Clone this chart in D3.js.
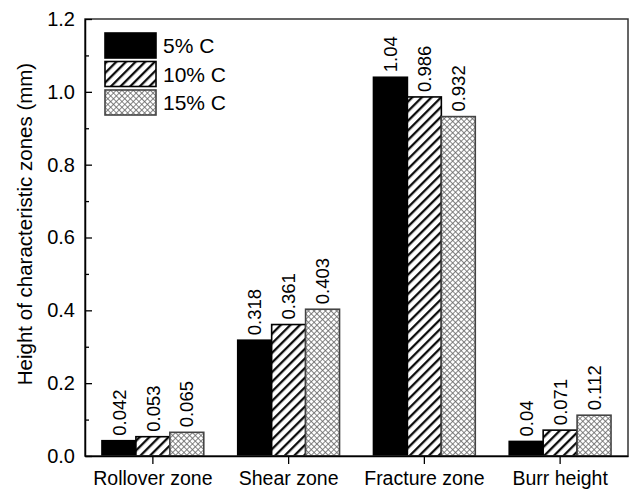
<!DOCTYPE html>
<html>
<head>
<meta charset="utf-8">
<script src="https://cdnjs.cloudflare.com/ajax/libs/d3/7.8.5/d3.min.js"></script>
<style>
  body { margin: 0; background: #fff; }
  svg text { font-family: "Liberation Sans", Arial, sans-serif; fill: #000; }
</style>
</head>
<body>
<script>
// data
var categories = ["Rollover zone", "Shear zone", "Fracture zone", "Burr height"];
var seriesNames = ["5% C", "10% C", "15% C"];
var c5 = [0.042, 0.318, 1.04, 0.04];
var c10 = [0.053, 0.361, 0.986, 0.071];
var c15 = [0.065, 0.403, 0.932, 0.112];
var yTicks = [0.0, 0.2, 0.4, 0.6, 0.8, 1.0, 1.2];
var yLabel = "Height of characteristic zones (mm)";

var series = [c5, c10, c15];

// set the dimensions and margins of the graph
var margin = {top: 19, right: 3, bottom: 40, left: 85},
    width = 631 - margin.left - margin.right,
    height = 496 - margin.top - margin.bottom;

var svg = d3.select("body").append("svg")
    .attr("width", 631)
    .attr("height", 496);

// fill patterns
var defs = svg.append("defs");
defs.append("pattern")
    .attr("id", "hatch")
    .attr("patternUnits", "userSpaceOnUse")
    .attr("width", 6.8).attr("height", 6.8)
    .attr("patternTransform", "rotate(45)")
  .call(function(p) {
    p.append("rect").attr("width", 6.8).attr("height", 6.8).attr("fill", "#fff");
    p.append("line").attr("x1", 1.2).attr("x2", 1.2).attr("y1", 0).attr("y2", 6.8)
      .attr("stroke", "#000").attr("stroke-width", 2.2);
  });
defs.append("pattern")
    .attr("id", "cross")
    .attr("patternUnits", "userSpaceOnUse")
    .attr("width", 4).attr("height", 4)
    .attr("patternTransform", "rotate(45)")
  .call(function(p) {
    p.append("rect").attr("width", 4).attr("height", 4).attr("fill", "#fff");
    p.append("line").attr("x1", 0.5).attr("x2", 0.5).attr("y1", 0).attr("y2", 4)
      .attr("stroke", "#666").attr("stroke-width", 0.8);
    p.append("line").attr("y1", 0.5).attr("y2", 0.5).attr("x1", 0).attr("x2", 4)
      .attr("stroke", "#666").attr("stroke-width", 0.8);
  });

var fills = ["#000", "url(#hatch)", "url(#cross)"];
var strokes = ["#000", "#000", "#444"];

var g = svg.append("g")
    .attr("transform", "translate(" + margin.left + "," + margin.top + ")");

// scales
var x0 = d3.scaleBand().domain(categories).range([0, width])
    .paddingInner(0.25).paddingOuter(0.125);
var x1 = d3.scaleBand().domain(d3.range(series.length)).range([0, x0.bandwidth()]);
var y = d3.scaleLinear().domain([0, 1.2]).range([height, 0]);

// bars
series.forEach(function(vals, si) {
  var sg = g.append("g");
  sg.selectAll("rect")
      .data(vals)
    .enter().append("rect")
      .attr("x", function(d, i) { return x0(categories[i]) + x1(si); })
      .attr("y", function(d) { return y(d); })
      .attr("width", x1.bandwidth())
      .attr("height", function(d) { return height - y(d); })
      .attr("fill", fills[si])
      .attr("stroke", strokes[si])
      .attr("stroke-width", 1.6);
  sg.selectAll("text")
      .data(vals)
    .enter().append("text")
      .attr("transform", function(d, i) {
        var cx = x0(categories[i]) + x1(si) + x1.bandwidth() / 2;
        return "translate(" + cx + "," + (y(d) - 5) + ") rotate(-90)";
      })
      .attr("dy", "0.36em")
      .style("font-size", "18.5px")
      .text(function(d) { return String(d); });
});

// frame
g.append("rect")
    .attr("width", width).attr("height", height)
    .attr("fill", "none").attr("stroke", "#333").attr("stroke-width", 1.5);

// Y axis with inward ticks
var yAxis = g.append("g")
    .call(d3.axisLeft(y).tickValues(yTicks).tickFormat(d3.format(".1f")).tickSizeInner(-7).tickSizeOuter(0).tickPadding(10));
yAxis.select(".domain").attr("stroke", "#000").attr("stroke-width", 1.5);
yAxis.selectAll(".tick line").attr("stroke-width", 1.3);
yAxis.selectAll("text").style("font-size", "20px").attr("font-family", null);
g.append("g")
    .call(d3.axisLeft(y).tickValues([0.1, 0.3, 0.5, 0.7, 0.9, 1.1]).tickSize(-4).tickFormat(""))
  .call(function(a) { a.select(".domain").remove(); a.selectAll(".tick line").attr("stroke-width", 1.3); });

// X axis with outward ticks
var xAxis = g.append("g")
    .attr("transform", "translate(0," + height + ")")
    .call(d3.axisBottom(x0).tickSizeInner(8).tickSizeOuter(0).tickPadding(7));
xAxis.select(".domain").attr("stroke", "#000").attr("stroke-width", 1.5);
xAxis.selectAll(".tick line").attr("stroke-width", 1.3);
xAxis.selectAll("text").style("font-size", "19.5px").attr("font-family", null);

// Y label
svg.append("text")
    .attr("transform", "translate(32," + 224 + ") rotate(-90)")
    .attr("text-anchor", "middle")
    .style("font-size", "20.5px")
    .text(yLabel);

// legend
var legend = svg.append("g").attr("transform", "translate(105,33)");
seriesNames.forEach(function(name, i) {
  legend.append("rect")
      .attr("x", 0).attr("y", i * 28.5)
      .attr("width", 51).attr("height", 25)
      .attr("fill", fills[i]).attr("stroke", strokes[i]).attr("stroke-width", 1.6);
  legend.append("text")
      .attr("x", 58).attr("y", i * 28.5 + 12.5)
      .attr("dy", "0.36em")
      .style("font-size", "21px")
      .text(name);
});
</script>
</body>
</html>
